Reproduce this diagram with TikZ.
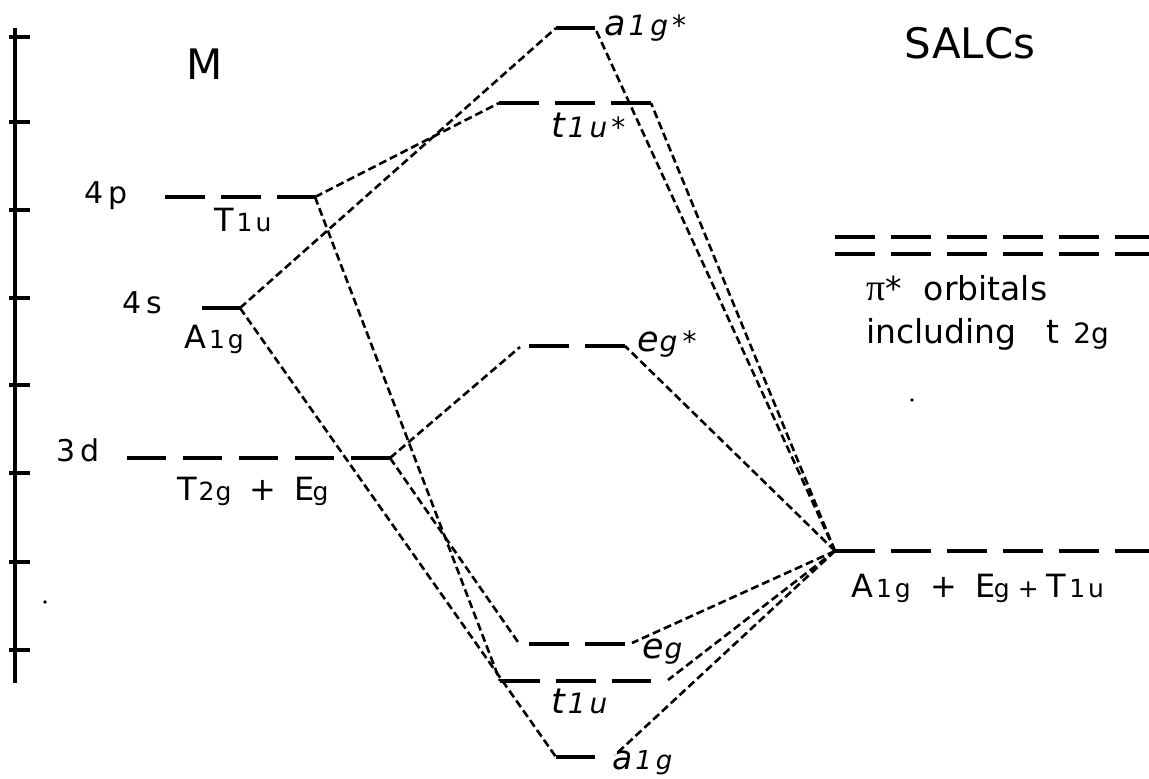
\documentclass[tikz,border=0pt]{standalone}
\usepackage{fontspec}
\setmainfont{DejaVu Sans}
\newfontfamily\piF{Liberation Serif}
\newcommand{\Bg}[1]{{\fontsize{32pt}{32pt}\selectfont #1}}
\newcommand{\Sm}[1]{{\fontsize{25pt}{25pt}\selectfont #1}}
\newcommand{\IB}[1]{{\fontsize{35pt}{35pt}\selectfont #1}}
\newcommand{\IS}[1]{{\fontsize{28pt}{28pt}\selectfont #1}}
\newcommand{\Hd}[1]{{\fontsize{42pt}{42pt}\selectfont #1}}
\newcommand{\Ao}[1]{{\fontsize{30pt}{30pt}\selectfont #1}}
\newcommand{\Tx}[1]{{\fontsize{33pt}{33pt}\selectfont #1}}
\begin{document}
\begin{tikzpicture}[x=1pt,y=-1pt,
  lvl/.style={line width=3.4pt, dash pattern=on 40pt off 16pt},
  sollvl/.style={line width=3.4pt},
  conn/.style={line width=2.6pt, dash pattern=on 8pt off 4pt},
  lab/.style={inner sep=0pt, anchor=base west},
  axl/.style={line width=3.4pt}]
\useasboundingbox (0,0) rectangle (1149,779);
\fill[white] (0,0) rectangle (1149,779);

% axis
\coordinate (axT) at (15,28);
\coordinate (axB) at (15,683);
\draw[axl] (axT) -- (axB);
\foreach \y in {37,122,210,298,385,473,562,650}
  \draw[axl] (9,\y) -- (30,\y);
\fill (45,602) circle (1.8pt);
\fill (912,400) circle (1.8pt);

% level endpoints
\coordinate (p4a) at (165,197);  \coordinate (p4) at (315,197);
\coordinate (s4a) at (202,308);  \coordinate (s4) at (240,308);
\coordinate (d3a) at (127,458);  \coordinate (d3) at (390,458);
\coordinate (agsL) at (556,28);  \coordinate (agsR) at (595,28);
\coordinate (tusL) at (499,103); \coordinate (tusR) at (651,103);
\coordinate (egsL) at (529,346); \coordinate (egsR) at (625,346);
\coordinate (egL) at (529,644);  \coordinate (egR) at (625,644);
\coordinate (tuL) at (500,681);  \coordinate (tuR) at (651,681);
\coordinate (agL) at (556,757);  \coordinate (agR) at (595,757);
\coordinate (salc) at (835,551); \coordinate (salcE) at (1149,551);
\coordinate (piA) at (835,237);  \coordinate (piAE) at (1149,237);
\coordinate (piB) at (835,254);  \coordinate (piBE) at (1149,254);
% connector ends slightly off the levels
\coordinate (egsLc) at (520,347);
\coordinate (egLc) at (518,642);
\coordinate (egRc) at (632,643);
\coordinate (tuRc) at (668,680);
\coordinate (agRc) at (615,755);

% levels
\draw[lvl] (p4a) -- (p4);
\draw[sollvl] (s4a) -- (s4);
\draw[lvl, dash pattern=on 39pt off 17pt] (d3a) -- (d3);
\draw[sollvl] (agsL) -- (agsR);
\draw[lvl] (tusL) -- (tusR);
\draw[lvl] (egsL) -- (egsR);
\draw[lvl] (egL) -- (egR);
\draw[lvl] (tuL) -- (tuR);
\draw[sollvl] (agL) -- (agR);
\draw[lvl] (salc) -- (salcE);
\draw[lvl] (piA) -- (piAE);
\draw[lvl] (piB) -- (piBE);

% metal connectors
\draw[conn] (p4) -- (tusL);
\draw[conn] (p4) -- (tuL);
\draw[conn] (s4) -- (agsL);
\draw[conn] (s4) -- (agL);
\draw[conn] (d3) -- (egsLc);
\draw[conn] (d3) -- (egLc);
% ligand connectors
\draw[conn] (salc) -- (agsR);
\draw[conn] (salc) -- (tusR);
\draw[conn] (salc) -- (egsR);
\draw[conn] (salc) -- (egRc);
\draw[conn] (salc) -- (tuRc);
\draw[conn] (salc) -- (agRc);

% labels
\node[lab] (M) at (186,79) {\Hd{M}};
\node[inner sep=0pt, anchor=base] (SALCs) at (970,58) {\Hd{SALCs}};
\node[lab] (l4p) at (84,203) {\Ao{4\kern5pt p}};
\node[lab] (l4s) at (122,313) {\Ao{4\kern5pt s}};
\node[lab] (l3d) at (56,461) {\Ao{3\kern5pt d}};
\node[lab] (lT1u) at (214,231) {\Bg{T}\kern3pt\Sm{1\kern3pt u}};
\node[lab] (lA1g) at (184,348) {\Bg{A}\kern3pt\Sm{1\kern3pt g}};
\node[lab] (lT2g) at (177,500) {\Bg{T}\kern2pt\Sm{2\kern1pt g}\kern18pt\Bg{+}\kern18pt\Bg{E}\kern-2pt\Sm{g}};
\node[lab] (lags) at (604,35) {\itshape\IB{a}\kern3pt\IS{1\kern4pt g\kern4pt *}};
\node[lab] (ltus) at (551,137) {\itshape\IB{t}\kern3pt\IS{1\kern4pt u\kern4pt *}};
\node[lab] (legs) at (637,351) {\itshape\IB{e}\kern1pt\IS{g\kern5pt *}};
\node[lab] (leg) at (642,658) {\itshape\IB{e}\kern1pt\IS{g}};
\node[lab] (ltu) at (551,713) {\itshape\IB{t}\kern3pt\IS{1\kern4pt u}};
\node[lab] (lag) at (612,769) {\itshape{\fontsize{33pt}{33pt}\selectfont a}\kern3pt{\fontsize{26pt}{26pt}\selectfont 1\kern4pt g}};
\node[lab] (lpi) at (866,300) {\Tx{{\piF\fontsize{38pt}{38pt}\selectfont π}*\kern22pt orbitals}};
\node[lab] (linc) at (866,343) {\Tx{including\kern30pt t}\kern14pt\IS{2g}};
\node[lab] (lsalc) at (851,597) {\Bg{A}\kern3pt\Sm{1\kern3pt g}\kern20pt\Bg{+}\kern18pt\Bg{E}\kern-2pt\Sm{g\kern8pt +\kern8pt}\Bg{T}\kern3pt\Sm{1\kern3pt u}};
\end{tikzpicture}
\end{document}
